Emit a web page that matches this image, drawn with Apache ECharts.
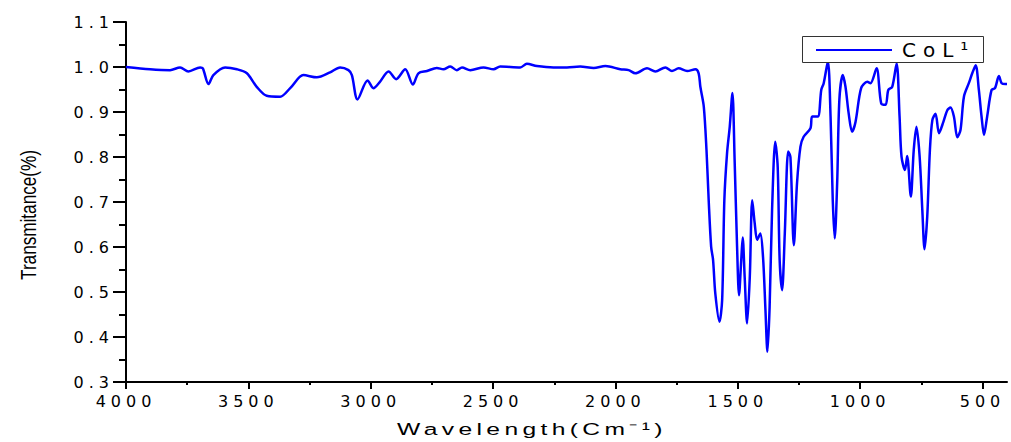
<!DOCTYPE html>
<html>
<head>
<meta charset="utf-8">
<script src="https://cdn.jsdelivr.net/npm/echarts@6/dist/echarts.min.js"></script>
<style>
  html, body { margin: 0; padding: 0; background: #fff; }
  #chart { width: 1011px; height: 442px; }
  #chart svg text { letter-spacing: 5px; }
  #chart svg text[style*="17px"] { letter-spacing: 3px; }
  #chart svg text[style*="20px"] { letter-spacing: 7px; }
  #chart svg text[style*="22px"] { letter-spacing: 0px; }
</style>
</head>
<body>
<div id="chart"></div>
<script>
// Wavenumber (cm^-1)
const wavenumbers = [4000,3902,3820,3779,3745,3697,3686,3663,3643,3595,3547,3506,3466,3425,3370,3329,3275,3220,3166,3125,3091,3077,3054,3013,2989,2964,2927,2896,2859,2828,2805,2770,2730,2703,2675,2648,2627,2593,2539,2498,2471,2389,2362,2321,2253,2198,2144,2089,2041,1980,1946,1919,1871,1837,1796,1769,1742,1707,1673,1660,1653,1639,1628,1619,1609,1601,1592,1575,1564,1555,1544,1533,1522,1513,1503,1495,1486,1480,1472,1462,1451,1441,1431,1421,1408,1397,1387,1379,1370,1360,1347,1337,1329,1319,1308,1294,1285,1271,1258,1244,1231,1203,1196,1173,1159,1149,1132,1121,1112,1104,1094,1085,1071,1060,1047,1033,1019,996,971,958,933,914,896,885,869,851,839,831,817,808,793,781,770,757,746,737,726,715,705,692,678,660,644,631,617,603,590,576,556,542,528,515,504,494,481,463,449,433,422,406,400];
// Transmittance values
const transmittance = [1.000,0.995,0.993,0.999,0.990,0.999,0.997,0.962,0.982,0.999,0.995,0.986,0.956,0.936,0.934,0.953,0.982,0.977,0.988,0.999,0.993,0.982,0.928,0.970,0.953,0.966,0.990,0.973,0.995,0.961,0.986,0.991,0.998,0.995,1.001,0.993,0.999,0.993,0.999,0.995,1.001,0.999,1.007,1.002,0.999,0.999,1.001,0.998,1.002,0.995,0.993,0.986,0.997,0.990,0.999,0.991,0.997,0.991,0.995,0.986,0.956,0.912,0.816,0.704,0.601,0.571,0.497,0.434,0.482,0.704,0.808,0.867,0.942,0.793,0.601,0.493,0.571,0.621,0.534,0.430,0.534,0.704,0.653,0.616,0.630,0.578,0.460,0.367,0.467,0.682,0.834,0.778,0.571,0.504,0.630,0.812,0.800,0.604,0.742,0.823,0.845,0.864,0.890,0.890,0.949,0.964,1.012,0.890,0.704,0.619,0.742,0.927,0.982,0.956,0.897,0.856,0.878,0.953,0.967,0.964,0.997,0.919,0.916,0.949,0.956,1.008,0.890,0.801,0.771,0.802,0.712,0.816,0.867,0.801,0.682,0.595,0.667,0.816,0.882,0.896,0.853,0.878,0.904,0.910,0.890,0.844,0.860,0.934,0.964,0.986,1.004,0.949,0.890,0.849,0.890,0.949,0.953,0.980,0.964,0.962,0.962];

const seriesName = 'CoL\u00B9';
const xMajorTicks = [4000,3500,3000,2500,2000,1500,1000,500];
const xMinorTicks = [3750,3250,2750,2250,1750,1250,750];
const xTitle = 'Wavelength(Cm\u207B\u00B9)';
const yTitle = 'Transmitance(%)';

const data = wavenumbers.map((w, i) => [w, transmittance[i]]);

const chart = echarts.init(document.getElementById('chart'), null, { renderer: 'svg' });
const labelFont = { fontFamily: 'DejaVu Sans, sans-serif', fontSize: 16, color: '#000' };

chart.setOption({
  animation: false,
  backgroundColor: '#fff',
  grid: { left: 126, right: 4, top: 22, bottom: 60, containLabel: false },
  legend: {
    left: 816, top: 40, z: 12,
    padding: 0,
    itemWidth: 76, itemHeight: 2,
    icon: 'rect',
    textStyle: { fontFamily: 'DejaVu Sans, sans-serif', fontSize: 20, lineHeight: 20, color: '#000', padding: [0, 0, 0, 5] },
    data: [{ name: seriesName, itemStyle: { color: '#0000ff' } }]
  },
  xAxis: [{
    type: 'value', inverse: true, min: 400, max: 4000,
    axisLine: { show: true, onZero: false, lineStyle: { color: '#000', width: 2 } },
    axisTick: { show: true, inside: false, length: 7, customValues: xMajorTicks, lineStyle: { color: '#000', width: 2 } },
    axisLabel: Object.assign({ show: true, margin: 11, customValues: xMajorTicks, formatter: v => String(v) }, labelFont),
    splitLine: { show: false }
  }, {
    type: 'value', inverse: true, min: 400, max: 4000, position: 'bottom',
    axisLine: { show: false },
    axisTick: { show: true, inside: false, length: 3, customValues: xMinorTicks, lineStyle: { color: '#000', width: 2 } },
    axisLabel: { show: false },
    splitLine: { show: false }
  }],
  yAxis: {
    type: 'value', min: 0.3, max: 1.1, interval: 0.1,
    axisLine: { show: true, onZero: false, lineStyle: { color: '#000', width: 2 } },
    axisTick: { show: true, inside: false, length: 13, lineStyle: { color: '#000', width: 2 } },
    minorTick: { show: true, splitNumber: 2, length: 7, lineStyle: { color: '#000', width: 2 } },
    axisLabel: Object.assign({ margin: 12, formatter: v => v.toFixed(1) }, labelFont),
    splitLine: { show: false }
  },
  graphic: [
    {
      type: 'rect', z: 10,
      shape: { x: 802.5, y: 36.5, width: 181, height: 26 },
      style: { fill: '#fff', stroke: '#333', lineWidth: 1 }
    },
    {
      type: 'text', x: 532, y: 429, scaleX: 1.45,
      style: { text: xTitle, fill: '#000', font: '17px "Liberation Sans", Arial, sans-serif', align: 'center', verticalAlign: 'middle' }
    },
    {
      type: 'text', x: 28, y: 215, rotation: Math.PI / 2, scaleX: 0.78,
      style: { text: yTitle, fill: '#000', font: '22px "Liberation Sans", Arial, sans-serif', align: 'center', verticalAlign: 'middle' }
    }
  ],
  series: [{
    name: seriesName, type: 'line', xAxisIndex: 0, data: data,
    showSymbol: false, symbol: 'none', smooth: 0.3,
    lineStyle: { color: '#0000ff', width: 2.5 },
    itemStyle: { color: '#0000ff' }
  }]
});
</script>
</body>
</html>
